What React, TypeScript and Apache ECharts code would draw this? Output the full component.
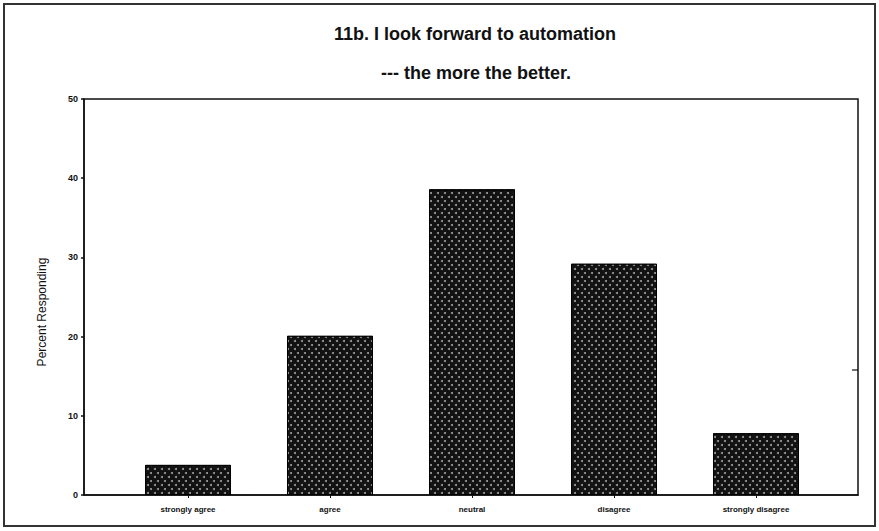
import React, { useEffect, useRef } from "react";
import * as echarts from "echarts";

const categories = ["strongly agree", "agree", "neutral", "disagree", "strongly disagree"];
const percentResponding = [3.8, 20.1, 38.6, 29.2, 7.8];
const yTicks = [0, 10, 20, 30, 40, 50];
const titleLine1 = "11b. I look forward to automation";
const titleLine2 = "--- the more the better.";
const yAxisName = "Percent Responding";

export default function App() {
  const ref = useRef<HTMLDivElement>(null);
  useEffect(() => {
    const chart = echarts.init(ref.current!, null, { renderer: "svg" });
    const font = "'Liberation Sans', Arial, sans-serif";
    chart.setOption({
      animation: false,
      backgroundColor: "#fff",
      title: [
        {
          text: titleLine1,
          left: 470,
          top: 20,
          textAlign: "center",
          textStyle: { fontFamily: font, fontSize: 18, fontWeight: "bold", color: "#111" },
        },
        {
          text: titleLine2,
          left: 471,
          top: 59,
          textAlign: "center",
          textStyle: { fontFamily: font, fontSize: 18, fontWeight: "bold", color: "#111" },
        },
      ],
      graphic: [
        {
          type: "rect",
          shape: { x: 4, y: 4, width: 871, height: 522 },
          style: { fill: "none", stroke: "#333", lineWidth: 2 },
          silent: true,
        },
        {
          type: "line",
          shape: { x1: 852, y1: 370, x2: 858, y2: 370 },
          style: { stroke: "#111", lineWidth: 1.2 },
          silent: true,
        },
        {
          type: "text",
          x: 42,
          y: 312,
          rotation: Math.PI / 2,
          style: {
            text: yAxisName,
            fontFamily: font,
            fontSize: 12,
            fill: "#111",
            align: "center",
            verticalAlign: "middle",
          },
          silent: true,
        },
      ],
      grid: [
        { left: 84, right: 21, top: 99, bottom: 36, show: true, borderColor: "#111", borderWidth: 1.5, containLabel: false },
        { left: 117, right: 52, top: 99, bottom: 36, containLabel: false },
      ],
      xAxis: [
        {
          gridIndex: 0,
          type: "value",
          min: 0,
          max: 1,
          axisLine: { show: true, lineStyle: { color: "#111", width: 1.5 } },
          axisTick: { show: false },
          axisLabel: { show: false },
          splitLine: { show: false },
        },
        {
          gridIndex: 1,
          type: "category",
          data: categories,
          axisLine: { show: false },
          axisTick: { show: true, alignWithLabel: true, length: 3, lineStyle: { color: "#111" } },
          axisLabel: {
            fontFamily: font,
            fontSize: 8,
            fontWeight: "bold",
            color: "#111",
            margin: 10,
          },
        },
      ],
      yAxis: [
        {
          gridIndex: 0,
          type: "value",
          min: 0,
          max: 50,
          interval: 10,
          axisLine: { show: true, lineStyle: { color: "#111", width: 1.5 } },
          axisTick: { show: true, length: 3, lineStyle: { color: "#111", width: 1.5 } },
          axisLabel: {
            fontFamily: font,
            fontSize: 9,
            fontWeight: "bold",
            color: "#111",
            margin: 6,
            formatter: (v: number) => (yTicks.includes(v) ? String(v) : ""),
          },
          splitLine: { show: false },
        },
        {
          gridIndex: 1,
          type: "value",
          min: 0,
          max: 50,
          interval: 10,
          show: false,
        },
      ],
      series: [
        {
          type: "bar",
          xAxisIndex: 1,
          yAxisIndex: 1,
          data: percentResponding,
          barWidth: 86,
          itemStyle: {
            color: "#121212",
            borderColor: "#000",
            borderWidth: 1,
            decal: {
              symbol: "circle",
              symbolSize: 1,
              color: "rgba(220,220,220,0.7)",
              dashArrayX: [[1.6, 4.4], [0, 3, 1.6, 1.4]],
              dashArrayY: [1.6, 1.4],
              rotation: 0,
            },
          },
        },
      ],
    });
    return () => chart.dispose();
  }, []);
  return <div ref={ref} style={{ width: 879, height: 531, position: "absolute", left: 0, top: 0 }} />;
}
